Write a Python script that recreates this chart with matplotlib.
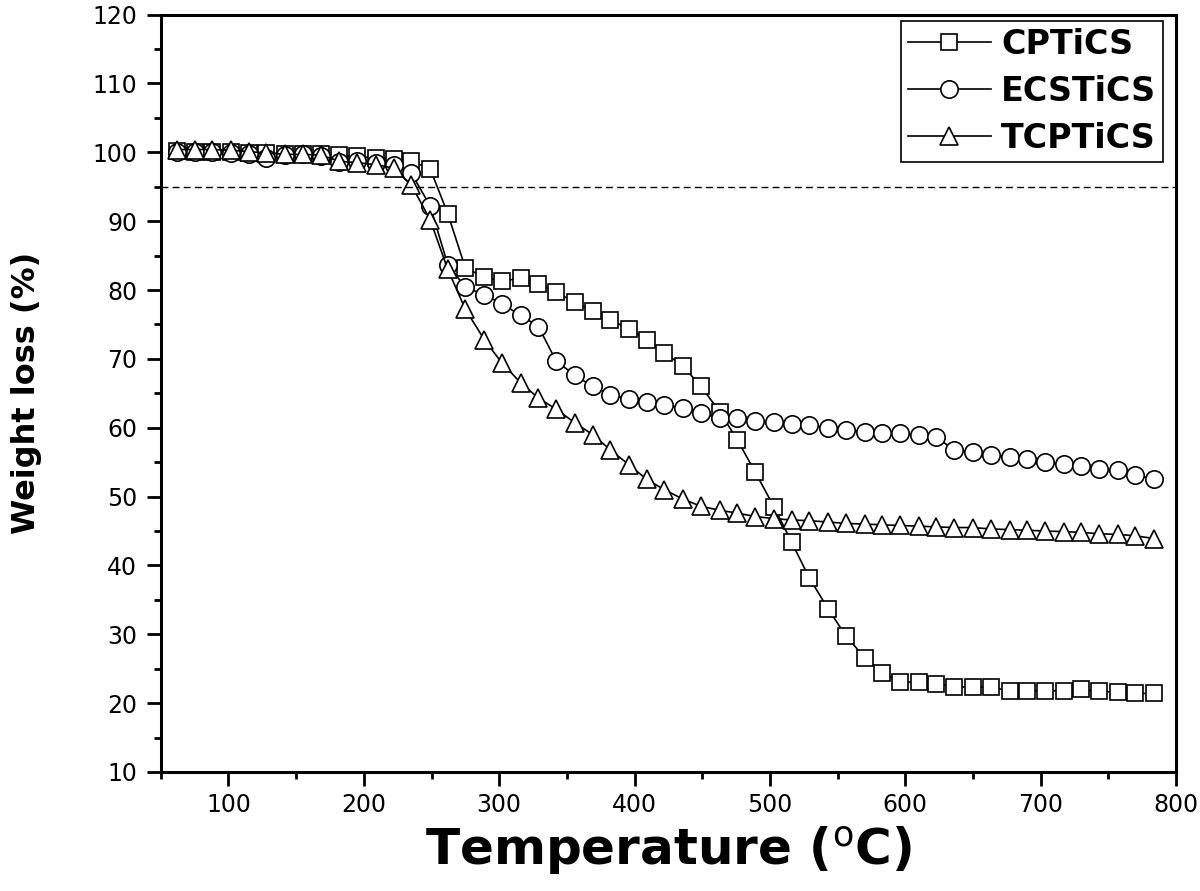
import matplotlib
matplotlib.use("Agg")
import matplotlib.pyplot as plt
from matplotlib.ticker import MultipleLocator

# temperatures of the plotted points (deg C)
temperature = [62, 75, 88, 102, 115, 128, 142, 155, 168, 182, 195, 209, 222, 235,
               249, 262, 275, 289, 302, 316, 329, 342, 356, 369, 382, 396, 409, 422,
               436, 449, 463, 476, 489, 503, 516, 529, 543, 556, 570, 583, 596, 610,
               623, 636, 650, 663, 677, 690, 703, 717, 730, 743, 757, 770, 784]

cptics = [100.2, 100.1, 100.0, 100.0, 99.9, 99.9, 99.8, 99.8, 99.7, 99.6, 99.4, 99.2,
          99.0, 98.7, 97.6, 91.1, 83.2, 81.9, 81.3, 81.7, 80.9, 79.7, 78.2, 77.0, 75.7,
          74.3, 72.8, 70.9, 68.9, 66.0, 62.3, 58.2, 53.6, 48.5, 43.4, 38.2, 33.7, 29.8,
          26.6, 24.4, 23.1, 23.0, 22.8, 22.4, 22.3, 22.3, 21.8, 21.8, 21.8, 21.8, 22.0,
          21.7, 21.6, 21.4, 21.4]

ecstics = [100.1, 100.0, 100.0, 99.9, 99.8, 99.2, 99.6, 99.7, 99.5, 98.6, 98.8, 98.4,
           98.2, 97.0, 92.2, 83.7, 80.4, 79.3, 78.0, 76.3, 74.7, 69.7, 67.6, 66.0, 64.8,
           64.2, 63.8, 63.3, 62.9, 62.1, 61.4, 61.4, 61.0, 60.8, 60.6, 60.4, 60.0, 59.7,
           59.4, 59.3, 59.2, 58.9, 58.6, 56.8, 56.5, 56.1, 55.8, 55.5, 55.0, 54.7, 54.4,
           54.0, 53.8, 53.1, 52.6]

tcptics = [100.4, 100.4, 100.4, 100.3, 100.1, 99.9, 99.7, 99.7, 99.6, 98.7, 98.5, 98.2,
           97.7, 95.3, 90.2, 83.0, 77.2, 72.8, 69.4, 66.5, 64.3, 62.7, 60.7, 59.0, 56.8,
           54.6, 52.5, 51.0, 49.6, 48.6, 48.0, 47.6, 47.1, 46.8, 46.6, 46.5, 46.3, 46.1,
           46.0, 45.9, 45.8, 45.7, 45.6, 45.5, 45.5, 45.3, 45.2, 45.1, 45.0, 44.9, 44.8,
           44.6, 44.5, 44.3, 43.9]

labels = ["CPTiCS", "ECSTiCS", "TCPTiCS"]
t5_level = 95

plt.rcParams['font.family'] = 'DejaVu Sans'
plt.rcParams['mathtext.fontset'] = 'dejavusans'

fig = plt.figure(figsize=(12, 8.91), dpi=100)
ax = fig.add_axes([0.134, 0.1336, 0.846, 0.85])

style = dict(color='black', lw=1.2, mfc='white', mec='black', mew=1.2)
ax.plot(temperature, cptics, marker='s', ms=11.5, label=labels[0], **style)
ax.plot(temperature, ecstics, marker='o', ms=12.5, label=labels[1], **style)
ax.plot(temperature, tcptics, marker='^', ms=13, label=labels[2], **style)

ax.axhline(t5_level, color='black', lw=1.0, ls=(0, (5, 3)))

ax.set_xlim(50, 800)
ax.set_ylim(10, 120)
ax.xaxis.set_major_locator(MultipleLocator(100))
ax.xaxis.set_minor_locator(MultipleLocator(50))
ax.yaxis.set_major_locator(MultipleLocator(10))
ax.yaxis.set_minor_locator(MultipleLocator(5))
ax.tick_params(which='major', direction='out', length=10, width=2, labelsize=17, pad=5)
ax.tick_params(which='minor', direction='out', length=5, width=2)
ax.tick_params(axis='y', which='major', pad=7)
for s in ax.spines.values():
    s.set_linewidth(2.2)

ax.set_xlabel(r'Temperature ($^{\rm o}$C)', fontsize=36, fontweight='bold', labelpad=6)
ax.set_ylabel('Weight loss (%)', fontsize=23, fontweight='bold', labelpad=36)

leg = ax.legend(loc='upper right', bbox_to_anchor=(0.987, 0.991), borderaxespad=0,
                prop={'size': 24, 'weight': 'bold'}, handlelength=2.5, handletextpad=0.3,
                labelspacing=0.42, borderpad=0.2, fancybox=False, framealpha=1)
leg.get_frame().set_edgecolor('black')
leg.get_frame().set_linewidth(1.2)

fig.savefig('out.png', dpi=100)
